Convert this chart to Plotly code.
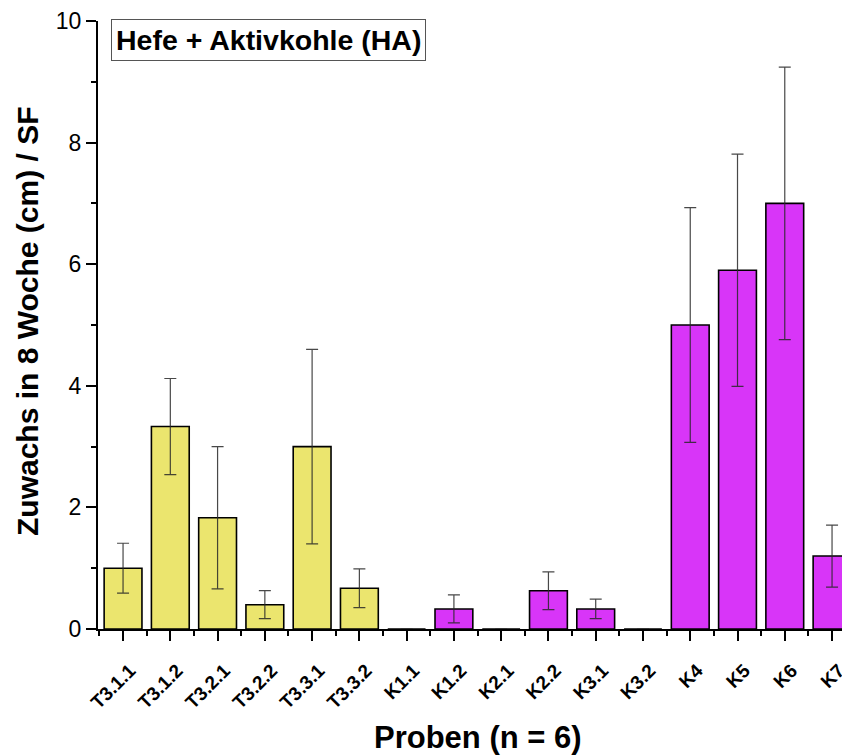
import plotly.graph_objects as go

categories = ["T3.1.1", "T3.1.2", "T3.2.1", "T3.2.2", "T3.3.1", "T3.3.2",
              "K1.1", "K1.2", "K2.1", "K2.2", "K3.1", "K3.2",
              "K4", "K5", "K6", "K7"]
means = [1.0, 3.33, 1.83, 0.4, 3.0, 0.67,
         0.0, 0.33, 0.0, 0.63, 0.33, 0.0,
         5.0, 5.9, 7.0, 1.2]
errors = [0.41, 0.79, 1.17, 0.23, 1.6, 0.32,
          0.0, 0.23, 0.0, 0.31, 0.16, 0.0,
          1.93, 1.91, 2.24, 0.51]
groups = ["T"] * 6 + ["K"] * 10

group_colors = {"T": "#EBE56E", "K": "#D835F8"}
colors = [group_colors[g] for g in groups]
xpos = list(range(len(categories)))

FONT = "Liberation Sans, Arial, sans-serif"

fig = go.Figure()
fig.add_trace(go.Bar(
    x=xpos, y=means, width=0.8,
    marker=dict(color=colors, line=dict(color="#000000", width=1.6)),
    error_y=dict(type="data", array=errors, visible=True,
                 color="rgba(40,40,40,0.85)", thickness=1.2, width=6),
    showlegend=False,
))

fig.update_layout(
    width=842, height=748,
    margin=dict(l=90, r=0, t=13, b=127, pad=0),
    plot_bgcolor="white", paper_bgcolor="white",
    font=dict(family=FONT, color="black"),
    xaxis=dict(
        range=[-0.53, 15.38],
        tickmode="array", tickvals=xpos, ticktext=categories,
        tickangle=-45,
        tickfont=dict(family=FONT, size=19, color="black", weight="bold"),
        ticklabelstandoff=11, ticklabelshift=7,
        ticks="outside", ticklen=10, tickwidth=2, tickcolor="black",
        minor=dict(ticks="outside", ticklen=5, tickwidth=2, tickcolor="black",
                   tick0=0.5, dtick=1),
        showline=True, linecolor="black", linewidth=2,
        showgrid=False, zeroline=False,
        automargin=False,
    ),
    yaxis=dict(
        range=[0, 10],
        tickmode="linear", tick0=0, dtick=2,
        tickfont=dict(family=FONT, size=23, color="black"),
        ticks="outside", ticklen=10, tickwidth=2, tickcolor="black",
        minor=dict(ticks="outside", ticklen=5, tickwidth=2, tickcolor="black",
                   dtick=1),
        showline=True, linecolor="black", linewidth=2,
        showgrid=False, zeroline=False,
        automargin=False,
    ),
    annotations=[
        dict(
            text="<b>Hefe + Aktivkohle (HA)</b>",
            xref="paper", yref="paper", x=0.017, y=1.0,
            xanchor="left", yanchor="top", showarrow=False, yshift=2,
            font=dict(family=FONT, size=28.5, color="black"),
            bordercolor="#555555", borderwidth=1, borderpad=4,
            bgcolor="white",
        ),
        dict(
            text="<b>Zuwachs in 8 Woche (cm) / SF</b>",
            xref="paper", yref="paper", x=0, y=0.5,
            xanchor="center", yanchor="middle", textangle=-90,
            xshift=-71, yshift=4, showarrow=False,
            font=dict(family=FONT, size=30, color="black"),
        ),
        dict(
            text="<b>Proben (n = 6)</b>",
            xref="paper", yref="paper", x=0.5, y=0,
            xanchor="center", yanchor="middle",
            xshift=4, yshift=-108, showarrow=False,
            font=dict(family=FONT, size=31, color="black"),
        ),
    ],
)

fig.write_html("out.html")
